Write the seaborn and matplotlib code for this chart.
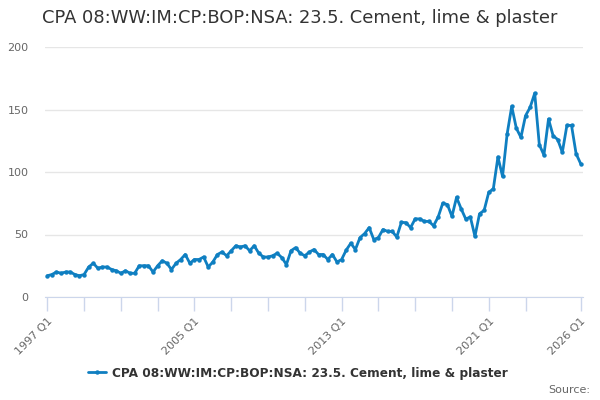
import numpy as np
import pandas as pd
import matplotlib
matplotlib.use("Agg")
import matplotlib.pyplot as plt
import seaborn as sns

# Quarterly values, 1997 Q1 .. 2026 Q1
values = [
    17, 18, 20, 19, 20, 20, 18, 17, 18, 24,
    27, 23, 24, 24, 22, 21, 19, 21, 19, 19,
    25, 25, 25, 20, 25, 29, 27, 22, 27, 30,
    34, 27, 30, 30, 32, 24, 28, 34, 36, 33,
    37, 41, 40, 41, 37, 41, 35, 32, 32, 33,
    35, 31.5, 26, 37, 39.5, 35, 33, 36, 38, 34,
    34, 30, 34, 28, 30, 37.5, 43, 38, 47.5, 50.7,
    55.5, 46, 47.5, 54, 52.5, 52.5, 48, 59.7, 59.5, 55.5,
    62.5, 62.5, 60.5, 60.5, 57, 64, 75, 74, 64.5, 79.7,
    70.6, 62.4, 64, 48.5, 66.6, 69.3, 83.7, 86.6, 112, 96.5,
    130.4, 152.5, 135, 127.7, 145, 151.7, 163, 121.8, 113.6, 142.4,
    129, 126, 115.7, 137.3, 137.3, 114.6, 106.6,
]
start_year = 1997
quarters = [f"{start_year + i // 4} Q{i % 4 + 1}" for i in range(len(values))]
label_quarters = ["1997 Q1", "2005 Q1", "2013 Q1", "2021 Q1", "2026 Q1"]
y_ticks = [0, 50, 100, 150, 200]

series_name = "CPA 08:WW:IM:CP:BOP:NSA: 23.5. Cement, lime & plaster"
df = pd.DataFrame({"pos": np.arange(len(values)), "quarter": quarters, "value": values})

sns.set_style("white")
plt.rcParams["font.family"] = ["DejaVu Sans"]

fig = plt.figure(figsize=(6, 4), dpi=100)
ax = fig.add_axes([45 / 600, 0.2575, 538 / 600, 0.625])

color = "#0f7fc1"
sns.lineplot(data=df, x="pos", y="value", ax=ax, color=color, linewidth=2,
             marker="o", markersize=3.2, markeredgewidth=0, label=series_name,
             legend=False)

ax.set_xlim(-0.5, len(values) - 0.5)
ax.set_ylim(0, 200)
ax.set_yticks(y_ticks)
ax.set_yticklabels([str(v) for v in y_ticks], fontsize=8, color="#666666")
ax.yaxis.grid(True, color="#e6e6e6", linewidth=1)
ax.tick_params(axis="y", length=0, pad=12)

# tick every two years, plus the last quarter
tick_pos = list(range(0, 105, 8)) + [len(values) - 1]
ax.set_xticks(tick_pos)
ax.set_xticklabels([quarters[p] if quarters[p] in label_quarters else "" for p in tick_pos],
                   rotation=45, ha="right", rotation_mode="anchor",
                   fontsize=8, color="#666666")
ax.tick_params(axis="x", length=10, width=1, color="#ccd6eb", pad=4, direction="out", bottom=True)

for s in ["top", "right", "left"]:
    ax.spines[s].set_visible(False)
ax.spines["bottom"].set_color("#ccd6eb")
ax.set_xlabel("")
ax.set_ylabel("")

fig.text(0.5, 0.955, series_name, ha="center", va="center", fontsize=12.9, color="#333333")

leg = fig.legend(handles=ax.get_lines()[:1], labels=[series_name], loc="center",
                 bbox_to_anchor=(0.497, 0.0675), frameon=False, fontsize=8.7,
                 handlelength=1.5, handletextpad=0.5)
for t in leg.get_texts():
    t.set_fontweight("bold")
    t.set_color("#333333")

fig.text(0.983, 0.025, "Source:", ha="right", va="center", fontsize=8, color="#666666")

fig.savefig("out.png", dpi=100)
